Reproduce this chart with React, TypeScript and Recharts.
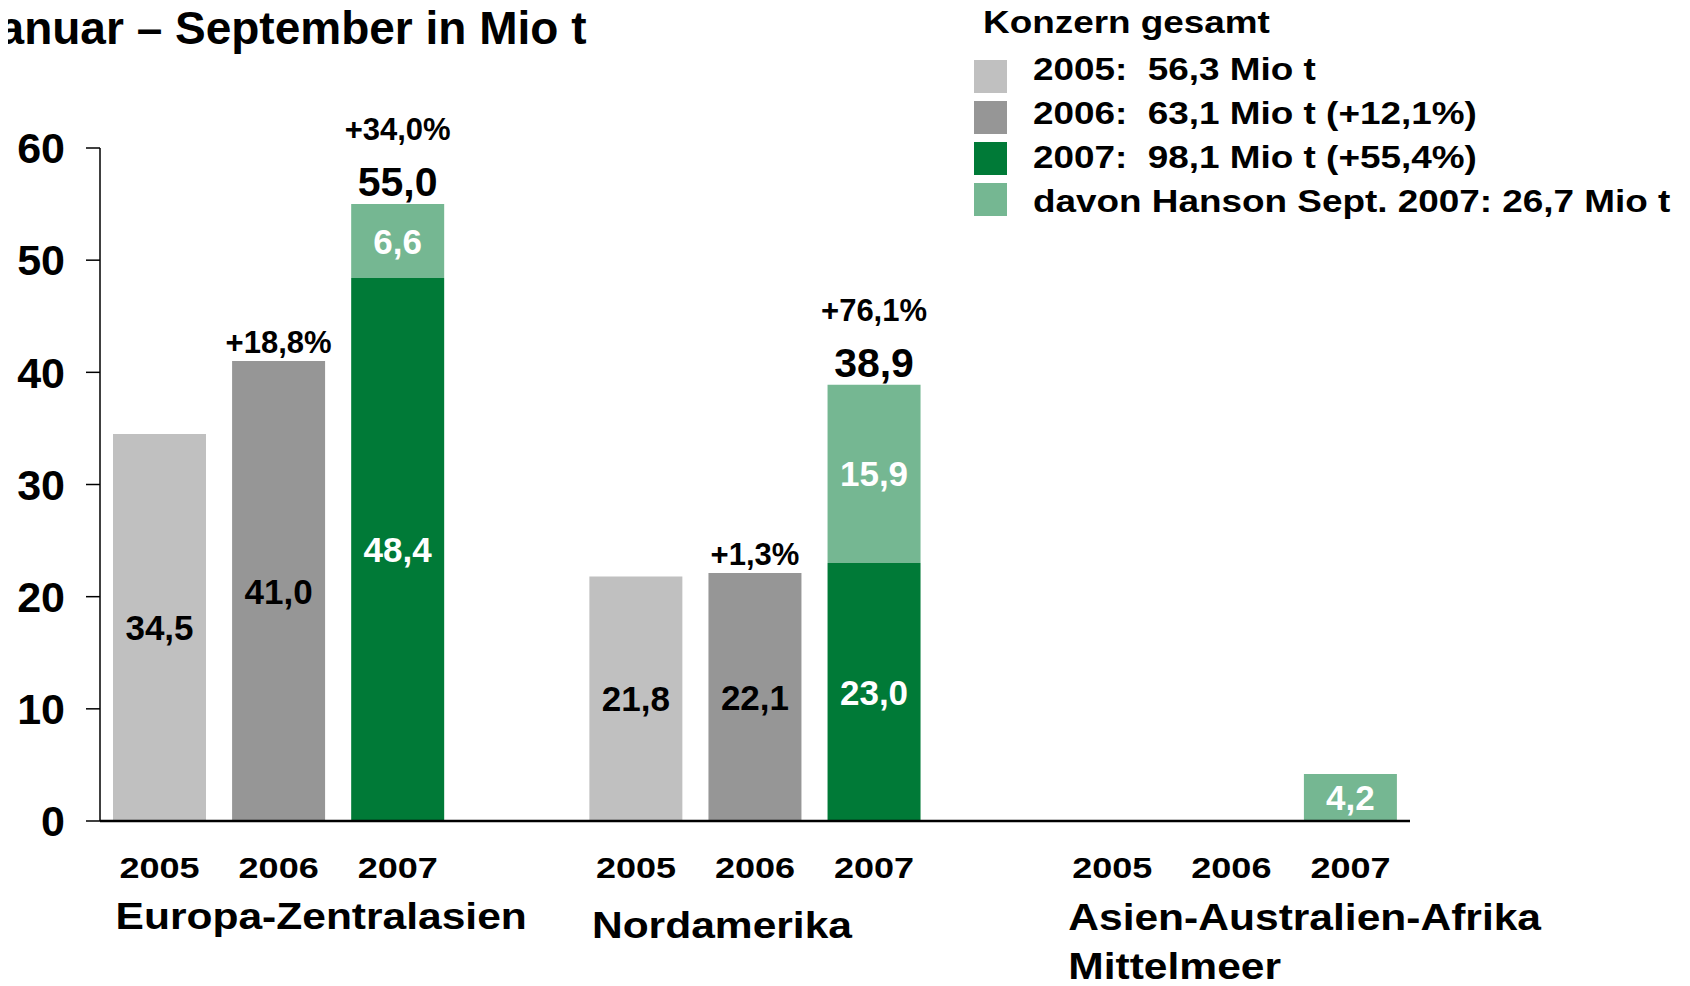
import { Bar, BarChart, Cell, LabelList, XAxis, YAxis } from 'recharts';

const FONT = "'Liberation Sans', Arial, Helvetica, sans-serif";

// chart data
const categories = ['2005', '2006', '2007', '', '2005', '2006', '2007', '', '2005', '2006', '2007'];
const baseValues = [34.5, 41.0, 48.4, null, 21.8, 22.1, 23.0, null, null, null, null];
const hansonValues = [null, null, 6.6, null, null, null, 15.9, null, null, null, 4.2];
const totalLabels = ['', '', '55,0', '', '', '', '38,9', '', '', '', ''];
const growthLabels = ['', '+18,8%', '+34,0%', '', '', '+1,3%', '+76,1%', '', '', '', ''];
const regionNames = [['Europa-Zentralasien'], ['Nordamerika'], ['Asien-Australien-Afrika', 'Mittelmeer']];
const regionStart = [0, 4, 8];
const yTicks = [0, 10, 20, 30, 40, 50, 60];

const legendTitle = 'Konzern gesamt';
const legendLabels = [
    '2005:  56,3 Mio t',
    '2006:  63,1 Mio t (+12,1%)',
    '2007:  98,1 Mio t (+55,4%)',
    'davon Hanson Sept. 2007: 26,7 Mio t',
];

const YEAR_COLORS: Record<string, string> = {
    '2005': '#C0C0C0',
    '2006': '#969696',
    '2007': '#007A37',
};
const HANSON = '#75B792';
const LEGEND_COLORS = [YEAR_COLORS['2005'], YEAR_COLORS['2006'], YEAR_COLORS['2007'], HANSON];

const data = categories.map((year, i) => ({
    idx: i,
    year,
    base: baseValues[i],
    hanson: hansonValues[i],
}));

const regionDy = [108, 117, 109];

const renderXTick = (props: any) => {
    const { x, y, payload } = props;
    const index = props.index ?? payload?.index ?? 0;
    const year = categories[index];
    const r = regionStart.indexOf(index);
    return (
        <g>
            {year && (
                <text
                    transform={`translate(${x},${y + 57}) scale(1.2,1)`}
                    textAnchor='middle'
                    fontFamily={FONT}
                    fontWeight={700}
                    fontSize={30}
                    fill='#000'
                >
                    {year}
                </text>
            )}
            {r >= 0 && regionNames[r].map((line, j) => (
                <text
                    key={j}
                    transform={`translate(${x - 44},${y + regionDy[r] + j * 49}) scale(1.15,1)`}
                    textAnchor='start'
                    fontFamily={FONT}
                    fontWeight={700}
                    fontSize={37}
                    fill='#000'
                >
                    {line}
                </text>
            ))}
        </g>
    );
};

const fmt = (v: number) => v.toFixed(1).replace('.', ',');

// label value is the data index, so we can look everything up in the arrays
const renderBaseLabel = (props: any) => {
    const { x, y, width, height, value } = props;
    const i = value as number;
    if (i == null || baseValues[i] == null) return null;
    const cx = x + width / 2;
    const white = categories[i] === '2007';
    const growth = hansonValues[i] == null ? growthLabels[i] : '';
    return (
        <g>
            <text x={cx} y={y + height / 2 + 12.5} textAnchor='middle' fontFamily={FONT}
                fontWeight={700} fontSize={35} fill={white ? '#fff' : '#000'}>
                {fmt(baseValues[i] as number)}
            </text>
            {growth && (
                <text x={cx} y={y - 8} textAnchor='middle' fontFamily={FONT}
                    fontWeight={700} fontSize={31} fill='#000'>
                    {growth}
                </text>
            )}
        </g>
    );
};

const renderHansonLabel = (props: any) => {
    const { x, y, width, height, value } = props;
    const i = value as number;
    if (i == null || hansonValues[i] == null) return null;
    const cx = x + width / 2;
    return (
        <g>
            <text x={cx} y={y + height / 2 + 12.5} textAnchor='middle' fontFamily={FONT}
                fontWeight={700} fontSize={35} fill='#fff'>
                {fmt(hansonValues[i] as number)}
            </text>
            {totalLabels[i] && (
                <text x={cx} y={y - 8} textAnchor='middle' fontFamily={FONT}
                    fontWeight={700} fontSize={41} fill='#000'>
                    {totalLabels[i]}
                </text>
            )}
            {growthLabels[i] && (
                <text x={cx} y={y - 64} textAnchor='middle' fontFamily={FONT}
                    fontWeight={700} fontSize={31} fill='#000'>
                    {growthLabels[i]}
                </text>
            )}
        </g>
    );
};

export default function App() {
    return (
        <div style={{ position: 'relative', width: 1690, height: 986, margin: '-8px 0 0 -8px', background: '#fff' }}>
            <BarChart
                width={1690}
                height={986}
                data={data}
                margin={{ top: 148, right: 280, bottom: 0, left: 0 }}
                barSize={93}
            >
                <YAxis
                    type='number'
                    domain={[0, 60]}
                    ticks={yTicks}
                    interval={0}
                    width={100}
                    tickSize={14}
                    tickMargin={21}
                    axisLine={{ stroke: '#000', strokeWidth: 1.5 }}
                    tickLine={{ stroke: '#000', strokeWidth: 1.5 }}
                    tick={{ fill: '#000', fontSize: 43, fontWeight: 700, fontFamily: FONT }}
                />
                <XAxis
                    dataKey='year'
                    height={165}
                    interval={0}
                    tickSize={0}
                    tickMargin={0}
                    tickLine={false}
                    axisLine={{ stroke: '#000', strokeWidth: 2.5 }}
                    tick={renderXTick}
                />
                <Bar dataKey='base' stackId='s' isAnimationActive={false}>
                    {data.map((d, i) => (
                        <Cell key={i} fill={YEAR_COLORS[d.year] ?? 'transparent'} />
                    ))}
                    <LabelList dataKey={(d: any) => d.idx} content={renderBaseLabel} />
                </Bar>
                <Bar dataKey='hanson' stackId='s' fill={HANSON} isAnimationActive={false}>
                    <LabelList dataKey={(d: any) => d.idx} content={renderHansonLabel} />
                </Bar>
            </BarChart>

            <svg
                width={1690}
                height={986}
                style={{ position: 'absolute', left: 0, top: 0, pointerEvents: 'none' }}
            >
                <text x={-27} y={44} fontFamily={FONT} fontWeight={700} fontSize={46} fill='#000'>
                    Januar – September in Mio t
                </text>
                <text transform='translate(983,33) scale(1.19,1)' fontFamily={FONT}
                    fontWeight={700} fontSize={31} fill='#000'>
                    {legendTitle}
                </text>
                {legendLabels.map((label, i) => (
                    <g key={label}>
                        <rect x={974} y={60 + i * 41} width={33} height={33} fill={LEGEND_COLORS[i]} />
                        <text transform={`translate(1033,${80 + i * 44}) scale(1.19,1)`} fontFamily={FONT}
                            fontWeight={700} fontSize={31} fill='#000' style={{ whiteSpace: 'pre' }}>
                            {label}
                        </text>
                    </g>
                ))}
            </svg>
        </div>
    );
}
